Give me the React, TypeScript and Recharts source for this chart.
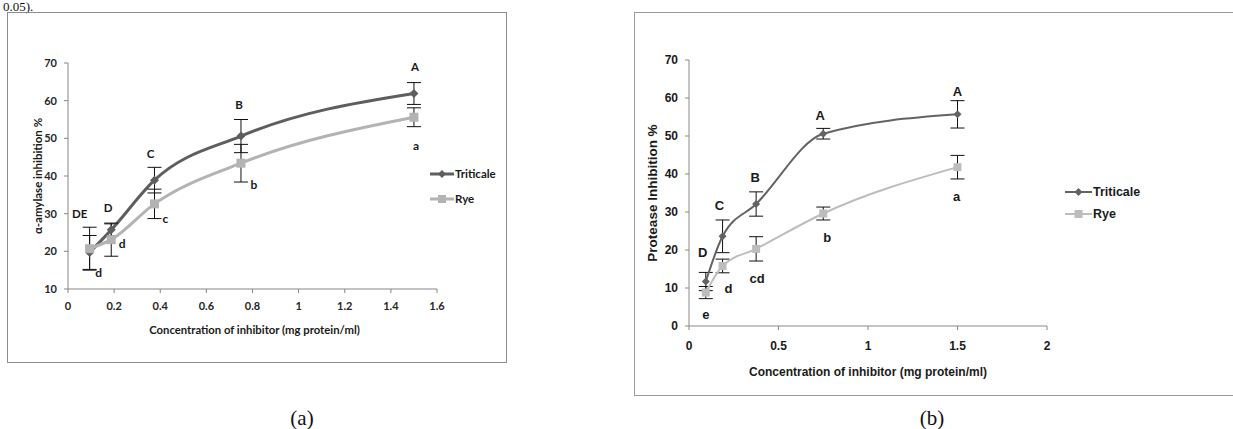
import React from "react";
import { LineChart, Line, XAxis, YAxis, ErrorBar, LabelList, Legend, Label } from "recharts";

// inhibitor concentrations (mg protein/ml)
const CONC = [0.09375, 0.1875, 0.375, 0.75, 1.5];

// (a) alpha-amylase inhibition
const AMY_TRITICALE = [19.7, 25.7, 38.9, 50.6, 61.9];
const AMY_TRITICALE_SD = [4.5, 1.6, 3.4, 4.4, 2.9];
const AMY_RYE = [20.7, 23.1, 32.6, 43.4, 55.6];
const AMY_RYE_SD = [5.7, 4.4, 3.9, 5.0, 2.5];
const AMY_TRITICALE_LETTERS = ["DE", "D", "C", "B", "A"];
const AMY_RYE_LETTERS = ["d", "d", "c", "b", "a"];
const AMY_X_TICKS = [0, 0.2, 0.4, 0.6, 0.8, 1, 1.2, 1.4, 1.6];
const AMY_Y_TICKS = [10, 20, 30, 40, 50, 60, 70];

// (b) protease inhibition
const PRO_TRITICALE = [11.7, 23.6, 32.1, 50.6, 55.7];
const PRO_TRITICALE_SD = [2.4, 4.3, 3.2, 1.4, 3.6];
const PRO_RYE = [8.8, 15.8, 20.3, 29.6, 41.8];
const PRO_RYE_SD = [1.6, 1.8, 3.2, 1.7, 3.1];
const PRO_TRITICALE_LETTERS = ["D", "C", "B", "A", "A"];
const PRO_RYE_LETTERS = ["e", "d", "cd", "b", "a"];
const PRO_X_TICKS = [0, 0.5, 1, 1.5, 2];
const PRO_Y_TICKS = [0, 10, 20, 30, 40, 50, 60, 70];

// letter nudges (px) from the end of the error bar
const AMY_T_NUDGE = [[-10, -22], [-3, -16], [-4, -14], [-2, -15], [1, -16]];
const AMY_R_NUDGE = [[9, 2], [11, -13], [11, 0], [13, 2], [2, 19]];
const PRO_T_NUDGE = [[-3, -20], [-3, -14], [-1, -14], [-3, -13], [0, -9]];
const PRO_R_NUDGE = [[0, 16], [6, 16], [1, 17], [4, 18], [-1, 18]];

const buildRows = (t, tSd, r, rSd, tL, rL) =>
  CONC.map((x, i) => ({
    x,
    t: t[i],
    tSd: tSd[i],
    r: r[i],
    rSd: rSd[i],
    tTop: t[i] + tSd[i],
    rBot: r[i] - rSd[i],
    tLetter: tL[i],
    rLetter: rL[i],
  }));

const amyRows = buildRows(AMY_TRITICALE, AMY_TRITICALE_SD, AMY_RYE, AMY_RYE_SD, AMY_TRITICALE_LETTERS, AMY_RYE_LETTERS);
const proRows = buildRows(PRO_TRITICALE, PRO_TRITICALE_SD, PRO_RYE, PRO_RYE_SD, PRO_TRITICALE_LETTERS, PRO_RYE_LETTERS);

const CAL = "Lato, 'Open Sans', sans-serif";
const ARIAL = "'Liberation Sans', Arial, sans-serif";

const diamond = (color, s) => (p) => {
  const { cx, cy, index } = p;
  if (cx == null || cy == null) return <g key={index} />;
  return (
    <path
      key={index}
      d={`M${cx},${cy - s} L${cx + s},${cy} L${cx},${cy + s} L${cx - s},${cy} Z`}
      fill={color}
    />
  );
};

const square = (color, s) => (p) => {
  const { cx, cy, index } = p;
  if (cx == null || cy == null) return <g key={index} />;
  return <rect key={index} x={cx - s} y={cy - s} width={s * 2} height={s * 2} fill={color} />;
};

const letter = (nudge, font, size) => (p) => {
  const vb = p.viewBox || {};
  const x = vb.x != null ? vb.x : p.x;
  const y = vb.y != null ? vb.y : p.y;
  const [dx, dy] = nudge[p.index] || [0, 0];
  return (
    <text
      x={x + dx}
      y={y + dy}
      textAnchor="middle"
      dominantBaseline="central"
      fontFamily={font}
      fontWeight={700}
      fontSize={size}
      fill="#1a1a1a"
    >
      {p.value}
    </text>
  );
};

const yTitle = (text, dx, font, size) => (p) => {
  const vb = p.viewBox;
  const cx = vb.x + dx;
  const cy = vb.y + vb.height / 2;
  return (
    <text
      x={cx}
      y={cy}
      transform={`rotate(-90 ${cx} ${cy})`}
      textAnchor="middle"
      dominantBaseline="central"
      fontFamily={font}
      fontWeight={700}
      fontSize={size}
      fill="#1a1a1a"
    >
      {text}
    </text>
  );
};

const xTitle = (text, dx, dy, font, size) => (p) => {
  const vb = p.viewBox;
  return (
    <text
      x={vb.x + vb.width / 2 + dx}
      y={vb.y + dy}
      textAnchor="middle"
      dominantBaseline="central"
      fontFamily={font}
      fontWeight={700}
      fontSize={size}
      fill="#1a1a1a"
    >
      {text}
    </text>
  );
};

const LegendBox = ({ items, font, size, gap, lineW, sw }) => (
  <div style={{ fontFamily: font, fontWeight: 700, fontSize: size, color: "#1a1a1a" }}>
    {items.map((it, i) => (
      <div key={it.name} style={{ display: "flex", alignItems: "center", height: 12, marginTop: i ? gap : 0 }}>
        <svg width={lineW} height={12} style={{ display: "block" }}>
          <line x1={0} y1={6} x2={lineW} y2={6} stroke={it.color} strokeWidth={sw} />
          {it.shape === "d" ? (
            <path d={`M${lineW / 2},2 L${lineW / 2 + 4},6 L${lineW / 2},10 L${lineW / 2 - 4},6 Z`} fill={it.color} />
          ) : (
            <rect x={lineW / 2 - 4} y={2} width={8} height={8} fill={it.color} />
          )}
        </svg>
        <span style={{ marginLeft: 1, lineHeight: "12px" }}>{it.name}</span>
      </div>
    ))}
  </div>
);

const AMY_DARK = "#5e5e5e";
const AMY_LIGHT = "#b3b3b3";
const PRO_DARK = "#636363";
const PRO_LIGHT = "#bdbdbd";

const AmylaseChart = () => (
  <LineChart
    width={620}
    height={400}
    data={amyRows}
    margin={{ top: 26, left: 28, right: 183, bottom: 81 }}
    style={{ position: "absolute", left: 0, top: 0 }}
  >
    <XAxis
      type="number"
      dataKey="x"
      domain={[0, 1.6]}
      ticks={AMY_X_TICKS}
      interval={0}
      height={30}
      tickSize={4}
      tickMargin={9}
      axisLine={{ stroke: "#868686" }}
      tickLine={{ stroke: "#868686" }}
      tick={{ fill: "#262626", fontSize: 11, fontWeight: 700, fontFamily: CAL }}
    >
      <Label content={xTitle("Concentration of inhibitor (mg protein/ml)", 2, 40, CAL, 11.3)} />
    </XAxis>
    <YAxis
      type="number"
      domain={[10, 70]}
      ticks={AMY_Y_TICKS}
      interval={0}
      width={40}
      tickSize={4}
      tickMargin={7}
      axisLine={{ stroke: "#868686" }}
      tickLine={{ stroke: "#868686" }}
      tick={{ fill: "#262626", fontSize: 11, fontWeight: 700, fontFamily: CAL }}
    >
      <Label content={yTitle("α-amylase  inhibition %", 9, CAL, 11.5)} />
    </YAxis>
    <Legend
      verticalAlign="top"
      align="left"
      wrapperStyle={{ position: "absolute", left: 430, top: 168, width: 80 }}
      content={() => (
        <LegendBox
          font={CAL}
          size={11.5}
          gap={13}
          lineW={24}
          sw={3}
          items={[
            { name: "Triticale", color: AMY_DARK, shape: "d" },
            { name: "Rye", color: AMY_LIGHT, shape: "s" },
          ]}
        />
      )}
    />
    <Line
      type="monotone"
      dataKey="t"
      stroke={AMY_DARK}
      strokeWidth={3}
      dot={diamond(AMY_DARK, 4.5)}
      activeDot={false}
      isAnimationActive={false}
    >
      <ErrorBar dataKey="tSd" width={7} stroke="#111" strokeWidth={1} direction="y" />
    </Line>
    <Line
      type="monotone"
      dataKey="r"
      stroke={AMY_LIGHT}
      strokeWidth={3}
      dot={square(AMY_LIGHT, 4.5)}
      activeDot={false}
      isAnimationActive={false}
    >
      <ErrorBar dataKey="rSd" width={7} stroke="#111" strokeWidth={1} direction="y" />
    </Line>
    <Line dataKey="tTop" stroke="none" dot={false} activeDot={false} legendType="none" isAnimationActive={false}>
      <LabelList dataKey="tLetter" content={letter(AMY_T_NUDGE, CAL, 11.5)} />
    </Line>
    <Line dataKey="rBot" stroke="none" dot={false} activeDot={false} legendType="none" isAnimationActive={false}>
      <LabelList dataKey="rLetter" content={letter(AMY_R_NUDGE, CAL, 12)} />
    </Line>
  </LineChart>
);

const ProteaseChart = () => (
  <LineChart
    width={613}
    height={400}
    data={proRows}
    margin={{ top: 26, left: 29, right: 186, bottom: 44 }}
    style={{ position: "absolute", left: 620, top: 0 }}
  >
    <XAxis
      type="number"
      dataKey="x"
      domain={[0, 2]}
      ticks={PRO_X_TICKS}
      interval={0}
      height={30}
      tickSize={4}
      tickMargin={11}
      axisLine={{ stroke: "#8a8a8a" }}
      tickLine={{ stroke: "#8a8a8a" }}
      tick={{ fill: "#1a1a1a", fontSize: 12, fontWeight: 700, fontFamily: ARIAL }}
    >
      <Label content={xTitle("Concentration of inhibitor (mg protein/ml)", 0, 46, ARIAL, 12)} />
    </XAxis>
    <YAxis
      type="number"
      domain={[0, 70]}
      ticks={PRO_Y_TICKS}
      interval={0}
      width={40}
      tickSize={4}
      tickMargin={7}
      axisLine={{ stroke: "#8a8a8a" }}
      tickLine={{ stroke: "#8a8a8a" }}
      tick={{ fill: "#1a1a1a", fontSize: 12, fontWeight: 700, fontFamily: ARIAL }}
    >
      <Label content={yTitle("Protease Inhibition %", 3, ARIAL, 13.5)} />
    </YAxis>
    <Legend
      verticalAlign="top"
      align="left"
      wrapperStyle={{ position: "absolute", left: 445, top: 186, width: 110 }}
      content={() => (
        <LegendBox
          font={ARIAL}
          size={12.5}
          gap={10}
          lineW={27}
          sw={2}
          items={[
            { name: "Triticale", color: PRO_DARK, shape: "d" },
            { name: "Rye", color: PRO_LIGHT, shape: "s" },
          ]}
        />
      )}
    />
    <Line
      type="monotone"
      dataKey="t"
      stroke={PRO_DARK}
      strokeWidth={2}
      dot={diamond(PRO_DARK, 4)}
      activeDot={false}
      isAnimationActive={false}
    >
      <ErrorBar dataKey="tSd" width={7} stroke="#111" strokeWidth={1} direction="y" />
    </Line>
    <Line
      type="monotone"
      dataKey="r"
      stroke={PRO_LIGHT}
      strokeWidth={2}
      dot={square(PRO_LIGHT, 4)}
      activeDot={false}
      isAnimationActive={false}
    >
      <ErrorBar dataKey="rSd" width={7} stroke="#111" strokeWidth={1} direction="y" />
    </Line>
    <Line dataKey="tTop" stroke="none" dot={false} activeDot={false} legendType="none" isAnimationActive={false}>
      <LabelList dataKey="tLetter" content={letter(PRO_T_NUDGE, ARIAL, 13)} />
    </Line>
    <Line dataKey="rBot" stroke="none" dot={false} activeDot={false} legendType="none" isAnimationActive={false}>
      <LabelList dataKey="rLetter" content={letter(PRO_R_NUDGE, ARIAL, 13)} />
    </Line>
  </LineChart>
);

export default function App() {
  return (
    <div
      style={{
        position: "fixed",
        left: 0,
        top: 0,
        width: 1233,
        height: 429,
        overflow: "hidden",
        background: "#fff",
      }}
    >
      <div
        style={{
          position: "absolute",
          left: 3,
          top: 0,
          fontFamily: "'Liberation Serif', 'Times New Roman', serif",
          fontSize: 13,
          lineHeight: "13px",
          color: "#111",
        }}
      >
        0.05).
      </div>
      <div style={{ position: "absolute", left: 7, top: 12, width: 498, height: 349, border: "1px solid #8c8c8c" }} />
      <div style={{ position: "absolute", left: 634, top: 12, width: 620, height: 382, border: "1px solid #9a9a9a" }} />
      <AmylaseChart />
      <ProteaseChart />
      {[
        { t: "(a)", x: 302 },
        { t: "(b)", x: 932 },
      ].map((c) => (
        <div
          key={c.t}
          style={{
            position: "absolute",
            left: c.x - 30,
            width: 60,
            top: 405,
            textAlign: "center",
            fontFamily: "'Liberation Serif', 'Times New Roman', serif",
            fontSize: 21,
            lineHeight: "26px",
            color: "#111",
          }}
        >
          {c.t}
        </div>
      ))}
    </div>
  );
}
